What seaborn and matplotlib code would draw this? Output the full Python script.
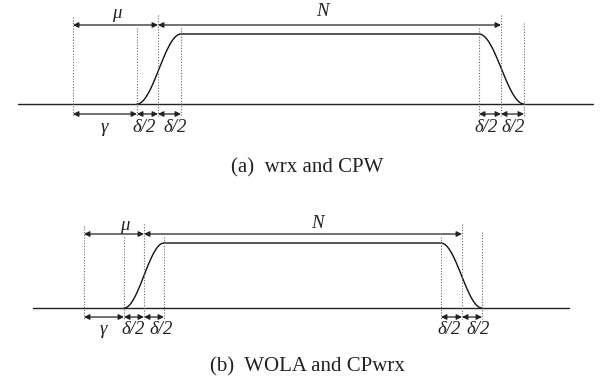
import numpy as np
import pandas as pd
import matplotlib
matplotlib.use("Agg")
import matplotlib.pyplot as plt
import seaborn as sns

sns.set_theme(style="white")
plt.rcParams["font.family"] = ["Liberation Serif", "DejaVu Serif"]

# Window geometry for each panel (x positions of the boundaries, in figure pixels)
panel_names = ["(a)  wrx and CPW", "(b)  WOLA and CPwrx"]
base_start = [18, 33]          # left end of the zero line
base_end = [593, 569]          # right end of the zero line
gamma_start = [73, 84]         # start of the cyclic prefix span (mu begins)
rise_start = [137, 124]        # window starts rising
rise_mid = [158, 144]          # middle of the rising edge (N begins)
rise_end = [181, 164]          # window reaches one
fall_start = [479, 441]        # window starts falling
fall_mid = [501, 462]          # middle of the falling edge (N ends)
fall_end = [524, 482]          # window back to zero

# Vertical levels per panel
y_base = [104, 308]
y_top = [34, 243]
y_arrow_top = [25, 234]
y_arrow_bot = [114, 317]
y_label_bot = [127, 330]
y_label_top = [13, 225]
y_caption = [168, 367]

# Label positions
mu_x = [117, 125]
n_x = [322, 317]
gamma_x = [104, 103]
dl_x = [[144, 175, 486, 513], [133, 161, 449, 478]]

fig = plt.figure(figsize=(6.0, 3.81), dpi=100)
ax = fig.add_axes([0, 0, 1, 1])
ax.set_xlim(0, 600)
ax.set_ylim(381, 0)
ax.axis("off")

gray = "#666666"
label_kw = dict(fontsize=13.5, fontstyle="italic", ha="center", va="center", color="#222222")


def arrow(x0, x1, y):
    ax.annotate("", xy=(x1, y), xytext=(x0, y),
                arrowprops=dict(arrowstyle="<|-|>", color="#222222", lw=0.9,
                                mutation_scale=8, shrinkA=0, shrinkB=0))


for i in range(2):
    # smooth raised-cosine window edges with a flat top
    t = np.linspace(0, 1, 60)
    up = 0.5 - 0.5 * np.cos(np.pi * t)
    xs = np.concatenate([rise_start[i] + t * (rise_end[i] - rise_start[i]),
                         fall_start[i] + t * (fall_end[i] - fall_start[i])])
    hs = np.concatenate([up, 1 - up])
    ys = y_base[i] + hs * (y_top[i] - y_base[i])
    df = pd.DataFrame({"x": xs, "y": ys})
    sns.lineplot(data=df, x="x", y="y", ax=ax, color="#111111", lw=1.0,
                 sort=False, estimator=None)

    # zero line
    ax.plot([base_start[i], base_end[i]], [y_base[i], y_base[i]], color="#222222", lw=1.0)

    # dotted guide lines
    guides = [(gamma_start[i], y_arrow_top[i] - 8, y_arrow_bot[i] + 2),
              (rise_start[i], y_top[i] - 6, y_arrow_bot[i] + 2),
              (rise_mid[i], y_arrow_top[i] - 10, y_arrow_bot[i] + 2),
              (rise_end[i], y_top[i] - 6, y_arrow_bot[i] + 2),
              (fall_start[i], y_top[i] - 6, y_arrow_bot[i] + 2),
              (fall_mid[i], y_arrow_top[i] - 10, y_arrow_bot[i] + 2),
              (fall_end[i], y_arrow_top[i] - 2, y_arrow_bot[i] + 2)]
    for gx, g0, g1 in guides:
        ax.plot([gx, gx], [g0, g1], color=gray, lw=0.8, ls=(0, (1, 1.5)))

    # top arrows
    arrow(gamma_start[i], rise_mid[i], y_arrow_top[i])
    arrow(rise_mid[i], fall_mid[i], y_arrow_top[i])
    # bottom arrows
    arrow(gamma_start[i], rise_start[i], y_arrow_bot[i])
    arrow(rise_start[i], rise_mid[i], y_arrow_bot[i])
    arrow(rise_mid[i], rise_end[i], y_arrow_bot[i])
    arrow(fall_start[i], fall_mid[i], y_arrow_bot[i])
    arrow(fall_mid[i], fall_end[i], y_arrow_bot[i])

    ax.text(mu_x[i], y_label_top[i], "μ", **label_kw)
    ax.text(n_x[i], y_label_top[i] - 2, "N", **label_kw)
    ax.text(gamma_x[i], y_label_bot[i], "γ", **label_kw)
    for dx in dl_x[i]:
        ax.text(dx, y_label_bot[i], "δ/2", **label_kw)

    ax.text(307, y_caption[i], panel_names[i], fontsize=15, ha="center",
            va="center", color="#222222")

fig.savefig("out.png", dpi=100)
